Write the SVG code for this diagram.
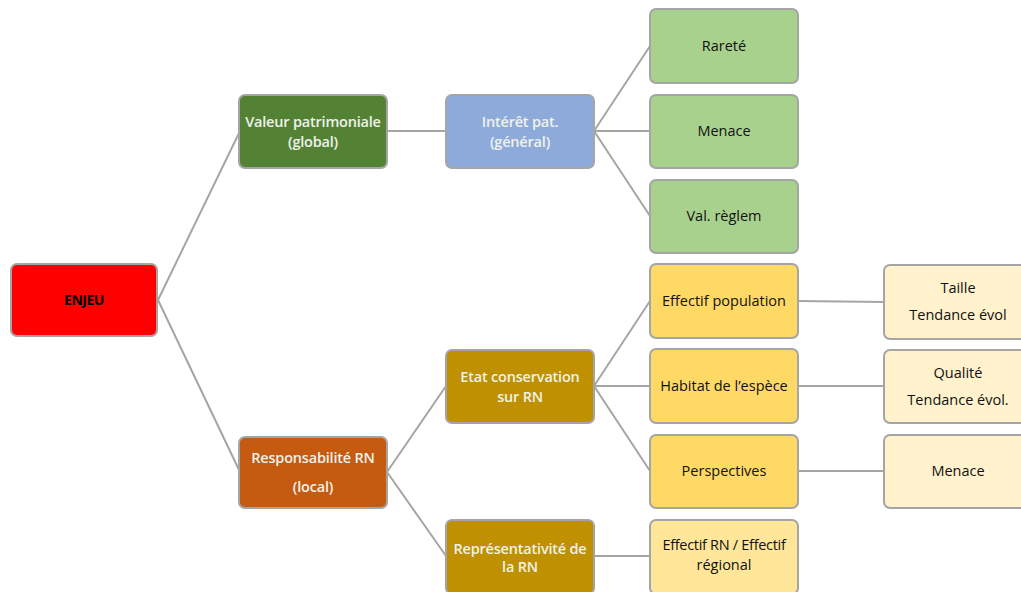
<svg xmlns="http://www.w3.org/2000/svg" width="1021" height="592" viewBox="0 0 1021 592">
<style>
.box{stroke:#a5a5a5;stroke-width:2}
.t{font-family:"Open Sans","Liberation Sans",sans-serif;font-size:14.5px;text-anchor:middle;fill:#111111;font-weight:500}
.w{fill:#eef2ea;font-weight:600;letter-spacing:-0.2px}
.b{font-weight:700;fill:#000;font-size:14px;letter-spacing:-0.5px}
.c{stroke:#a5a5a5;stroke-width:2;fill:none}
</style>
<rect width="1021" height="592" fill="#ffffff"/>
<g id="connectors">
<path class="c" d="M158,300 L240,131 M158,300 L240,472"/>
<path class="c" d="M387,131 L446,131" stroke-width="3"/>
<path class="c" d="M594,131 L650,46 M594,131 L650,131 M594,131 L650,216"/>
<path class="c" d="M387,472 L446,386 M387,472 L446,556"/>
<path class="c" d="M594,386 L650,301 M594,386 L650,386 M594,386 L650,471"/>
<path class="c" d="M594,556 L650,556"/>
<path class="c" d="M798,301 L884,302 M798,386 L884,386 M798,471 L884,471"/>
</g>
<g id="enjeu"><rect class="box" x="11" y="264" width="146" height="72" rx="6" fill="#ff0000"/><text class="t b" x="84" y="305">ENJEU</text></g>
<g id="valeur"><rect class="box" x="239" y="95" width="148" height="73" rx="6" fill="#548235"/><text class="t w" x="313" y="127">Valeur patrimoniale</text><text class="t w" x="313" y="147">(global)</text></g>
<g id="interet"><rect class="box" x="446" y="95" width="148" height="73" rx="6" fill="#8eaadb"/><text class="t w" x="520" y="127">Intérêt pat.</text><text class="t w" x="520" y="147">(général)</text></g>
<g id="rarete"><rect class="box" x="650" y="9" width="148" height="74" rx="6" fill="#a9d18e"/><text class="t" x="724" y="51">Rareté</text></g>
<g id="menace1"><rect class="box" x="650" y="95" width="148" height="73" rx="6" fill="#a9d18e"/><text class="t" x="724" y="136">Menace</text></g>
<g id="valreglem"><rect class="box" x="650" y="180" width="148" height="73" rx="6" fill="#a9d18e"/><text class="t" x="724" y="221">Val. règlem</text></g>
<g id="responsabilite"><rect class="box" x="239" y="437" width="148" height="71" rx="6" fill="#c55a11"/><text class="t w" x="313" y="463">Responsabilité RN</text><text class="t w" x="313" y="492">(local)</text></g>
<g id="etat"><rect class="box" x="446" y="350" width="148" height="73" rx="6" fill="#bf9000"/><text class="t w" x="520" y="382">Etat conservation</text><text class="t w" x="520" y="402">sur RN</text></g>
<g id="representativite"><rect class="box" x="446" y="520" width="148" height="74" rx="6" fill="#bf9000"/><text class="t w" x="520" y="554" letter-spacing="-0.4">Représentativité de</text><text class="t w" x="520" y="572">la RN</text></g>
<g id="effectifpop"><rect class="box" x="650" y="264" width="148" height="74" rx="6" fill="#ffd966"/><text class="t" x="724" y="306">Effectif population</text></g>
<g id="habitat"><rect class="box" x="650" y="349" width="148" height="74" rx="6" fill="#ffd966"/><text class="t" x="724" y="391">Habitat de l’espèce</text></g>
<g id="perspectives"><rect class="box" x="650" y="435" width="148" height="73" rx="6" fill="#ffd966"/><text class="t" x="724" y="476">Perspectives</text></g>
<g id="effectifrn"><rect class="box" x="650" y="520" width="148" height="74" rx="6" fill="#ffe699"/><text class="t" x="724" y="550" letter-spacing="-0.3">Effectif RN / Effectif</text><text class="t" x="724" y="570">régional</text></g>
<g id="taille"><rect class="box" x="884" y="265" width="148" height="74" rx="6" fill="#fff2cc"/><text class="t" x="958" y="293">Taille</text><text class="t" x="958" y="320">Tendance évol</text></g>
<g id="qualite"><rect class="box" x="884" y="350" width="148" height="73" rx="6" fill="#fff2cc"/><text class="t" x="958" y="378">Qualité</text><text class="t" x="958" y="405">Tendance évol.</text></g>
<g id="menace2"><rect class="box" x="884" y="435" width="148" height="73" rx="6" fill="#fff2cc"/><text class="t" x="958" y="476">Menace</text></g>
</svg>
